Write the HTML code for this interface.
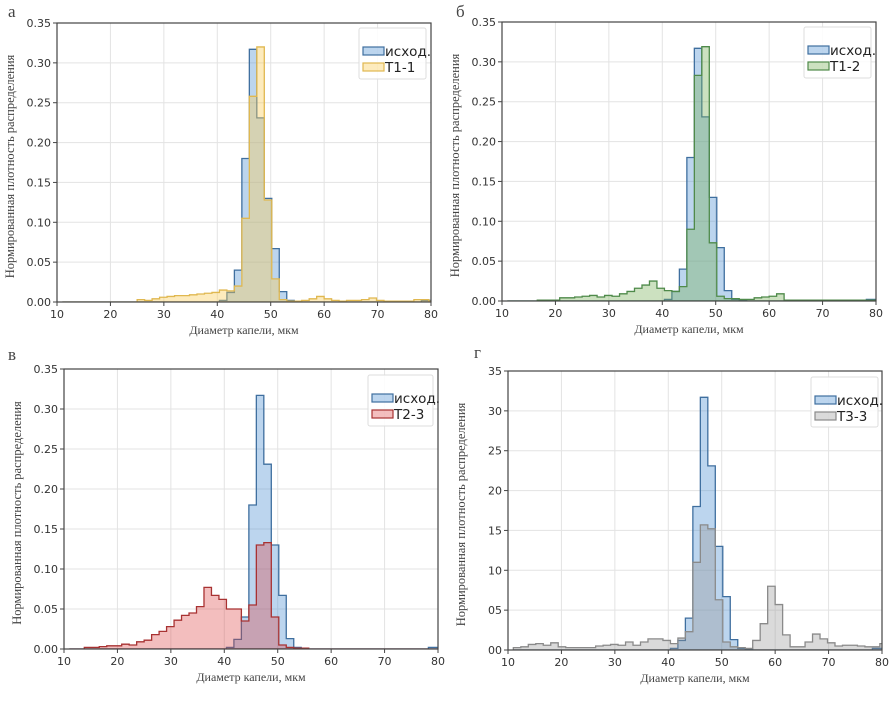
<!DOCTYPE html>
<html><head><meta charset="utf-8">
<style>
html,body{margin:0;padding:0;background:#fff;}
svg{display:block;}
.tick{font-family:"DejaVu Sans","Liberation Sans",sans-serif;font-size:11px;fill:#333;}
.ser{font-family:"Liberation Serif","DejaVu Serif",serif;fill:#444;}
.leg{font-family:"DejaVu Sans","Liberation Sans",sans-serif;font-size:13.5px;fill:#222;}
</style></head>
<body>
<svg id="chart" width="892" height="712" viewBox="0 0 892 712" xmlns="http://www.w3.org/2000/svg"></svg>
<script>
// Histogram bins: left edge 11, width 1.4
const binStart = 11;
const binWidth = 1.4;
const xTicks = [10,20,30,40,50,60,70,80];
const yTicksFrac = [0,0.05,0.10,0.15,0.20,0.25,0.30,0.35];
const yTickLabelsFrac = ["0.00","0.05","0.10","0.15","0.20","0.25","0.30","0.35"];
const yTicksPct = [0,5,10,15,20,25,30,35];
const yTickLabelsPct = ["00","05","10","15","20","25","30","35"];

const baseline = [0,0,0,0,0,0,0,0,0,0, 0,0,0,0,0,0,0,0,0,0, 0,0.002,0.012,0.04,0.18,0.317,0.231,0.13,0.067,0.013, 0.002,0.001,0,0,0,0,0,0,0,0, 0,0,0,0,0,0,0,0,0.002,0.002];
const baselinePct = [0,0,0,0,0,0,0,0,0,0, 0,0,0,0,0,0,0,0,0,0, 0,0.2,1.2,4.0,18.0,31.7,23.1,13.0,6.7,1.3, 0.2,0.1,0,0,0,0,0,0,0,0, 0,0,0,0,0,0,0,0,0.2,0.2];
const seriesT11 = [0,0,0,0,0,0,0,0,0,0, 0.003,0.002,0.004,0.006,0.007,0.008,0.008,0.009,0.01,0.011, 0.012,0.015,0.014,0.02,0.105,0.258,0.32,0.128,0.029,0.003, 0.001,0.001,0.002,0.004,0.007,0.004,0.002,0.001,0.002,0.002, 0.003,0.005,0.002,0.001,0.001,0.001,0.001,0.003,0.003,0.001];
const seriesT12 = [0,0,0,0,0.001,0.001,0.001,0.004,0.004,0.005, 0.006,0.007,0.005,0.007,0.006,0.009,0.012,0.016,0.02,0.025, 0.016,0.013,0.012,0.018,0.09,0.283,0.319,0.073,0.006,0.003, 0.003,0.002,0.002,0.004,0.005,0.006,0.009,0.001,0.001,0.001, 0.001,0.001,0.001,0.001,0.001,0.001,0.001,0.001,0.001,0.001];
const seriesT23 = [0,0,0.002,0.002,0.003,0.004,0.004,0.006,0.005,0.009, 0.011,0.018,0.022,0.028,0.036,0.042,0.045,0.053,0.077,0.067, 0.062,0.05,0.05,0.035,0.055,0.13,0.133,0.04,0.005,0.002, 0.001,0.001,0,0,0,0,0,0,0,0, 0,0,0,0,0,0,0,0,0,0];
const seriesT33 = [0.3,0.4,0.7,0.8,0.6,0.9,0.4,0.3,0.3,0.3, 0.3,0.5,0.6,0.7,0.6,1.0,0.6,1.0,1.4,1.4, 1.2,0.8,1.5,2.3,11,15.7,15.2,6.3,1.0,0.4, 0.3,0.2,1.2,3.3,8.0,5.7,1.9,0.4,0.4,1.0, 2.0,1.4,0.9,0.5,0.6,0.6,0.5,0.4,0.4,0.8];

const NS='http://www.w3.org/2000/svg';
const svg=document.getElementById('chart');
function mk(tag,attrs,parent){const e=document.createElementNS(NS,tag);for(const k in attrs)e.setAttribute(k,attrs[k]);(parent||svg).appendChild(e);return e;}

const BLUE={fill:'rgba(80,145,210,0.38)',stroke:'#3f6f9f'};
const panels=[
 {id:'a',letter:'а',lx:8,ly:17,L:57,R:431,T:23,B:302,ymax:0.35,yt:yTicksFrac,yl:yTickLabelsFrac,base:baseline,s:seriesT11,name:'T1-1',col:{fill:'rgba(250,205,90,0.4)',stroke:'#e0b850'},leg:[359,28,67,51]},
 {id:'b',letter:'б',lx:456,ly:17,L:502,R:876,T:22,B:301,ymax:0.35,yt:yTicksFrac,yl:yTickLabelsFrac,base:baseline,s:seriesT12,name:'T1-2',col:{fill:'rgba(120,175,90,0.38)',stroke:'#4f8a4a'},leg:[804,27,67,51]},
 {id:'c',letter:'в',lx:8,ly:360,L:64,R:438,T:369,B:649,ymax:0.35,yt:yTicksFrac,yl:yTickLabelsFrac,base:baseline,s:seriesT23,name:'T2-3',col:{fill:'rgba(220,70,70,0.35)',stroke:'#a83232'},leg:[368,375,65,51]},
 {id:'d',letter:'г',lx:474,ly:358,L:508,R:882,T:371,B:650,ymax:35,yt:yTicksPct,yl:yTickLabelsPct,base:baselinePct,s:seriesT33,name:'T3-3',col:{fill:'rgba(150,150,150,0.35)',stroke:'#8a8a8a'},leg:[811,377,67,50]}
];

panels.forEach(p=>{
 const g=mk('g',{});
 
 
 const xs=v=>p.L+(v-10)/70*(p.R-p.L);
 const ys=v=>p.B-v/p.ymax*(p.B-p.T);
 const lt=mk('text',{x:p.lx,y:p.ly,class:'ser','font-size':'17'},g);lt.textContent=p.letter;
 
 
 xTicks.forEach(t=>{mk('line',{x1:xs(t),x2:xs(t),y1:p.T,y2:p.B,stroke:'#e3e3e3','stroke-width':1},g);
   mk('line',{x1:xs(t),x2:xs(t),y1:p.B,y2:p.B+4,stroke:'#444'},g);
   const tx=mk('text',{x:xs(t),y:p.B+16,class:'tick','text-anchor':'middle'},g);tx.textContent=t;
   
   });
 p.yt.forEach((t,i)=>{mk('line',{x1:p.L,x2:p.R,y1:ys(t),y2:ys(t),stroke:'#e3e3e3','stroke-width':1},g);
   mk('line',{x1:p.L-4,x2:p.L,y1:ys(t),y2:ys(t),stroke:'#444'},g);
   const tx=mk('text',{x:p.L-6,y:ys(t)+4,class:'tick','text-anchor':'end'},g);tx.textContent=p.yl[i];
   
   });
 const cid='clip'+p.id;
 const cp=mk('clipPath',{id:cid},g);mk('rect',{x:p.L,y:p.T,width:p.R-p.L,height:p.B-p.T},cp);
 function hist(vals,col,nm){
   let d='M'+xs(binStart)+','+ys(0);
   vals.forEach((v,i)=>{const x0=xs(binStart+i*binWidth),x1=xs(binStart+(i+1)*binWidth);d+=' L'+x0+','+ys(v)+' L'+x1+','+ys(v);});
   d+=' L'+xs(binStart+vals.length*binWidth)+','+ys(0)+' Z';
   const path=mk('path',{d:d,fill:col.fill,stroke:col.stroke,'stroke-width':1.3,'clip-path':'url(#'+cid+')'},g);
   
   
 }
 hist(p.base,BLUE,'hist-baseline');
 hist(p.s,p.col,'hist-'+p.name.toLowerCase());
 const fr=mk('rect',{x:p.L,y:p.T,width:p.R-p.L,height:p.B-p.T,fill:'none',stroke:'#444','stroke-width':1.2},g);
 
 
 const xt=mk('text',{x:(p.L+p.R)/2,y:p.B+32,class:'ser','font-size':'12','text-anchor':'middle'},g);xt.textContent='Диаметр капели, мкм';
 
 
 const cy=(p.T+p.B)/2+4, cx=p.L-43;
 const yt=mk('text',{x:cx,y:cy,class:'ser','font-size':'12.5','text-anchor':'middle',transform:'rotate(-90 '+cx+' '+cy+')'},g);yt.textContent='Нормированная плотность распределения';
 
 
 const [lx,ly,lw,lh]=p.leg;
 const lg=mk('g',{},g);
 
 
 mk('rect',{x:lx,y:ly,width:lw,height:lh,fill:'rgba(255,255,255,0.85)',stroke:'#ddd','stroke-width':1,rx:2},lg);
 [[BLUE,'исход.'],[p.col,p.name]].forEach((e,i)=>{
   const yy=ly+19+i*16;
   mk('rect',{x:lx+4,y:yy,width:21,height:8,fill:e[0].fill,stroke:e[0].stroke,'stroke-width':1.2},lg);
   const t=mk('text',{x:lx+26,y:yy+9,class:'leg'},lg);t.textContent=e[1];
   
   
 });
});
</script>
</body></html>
